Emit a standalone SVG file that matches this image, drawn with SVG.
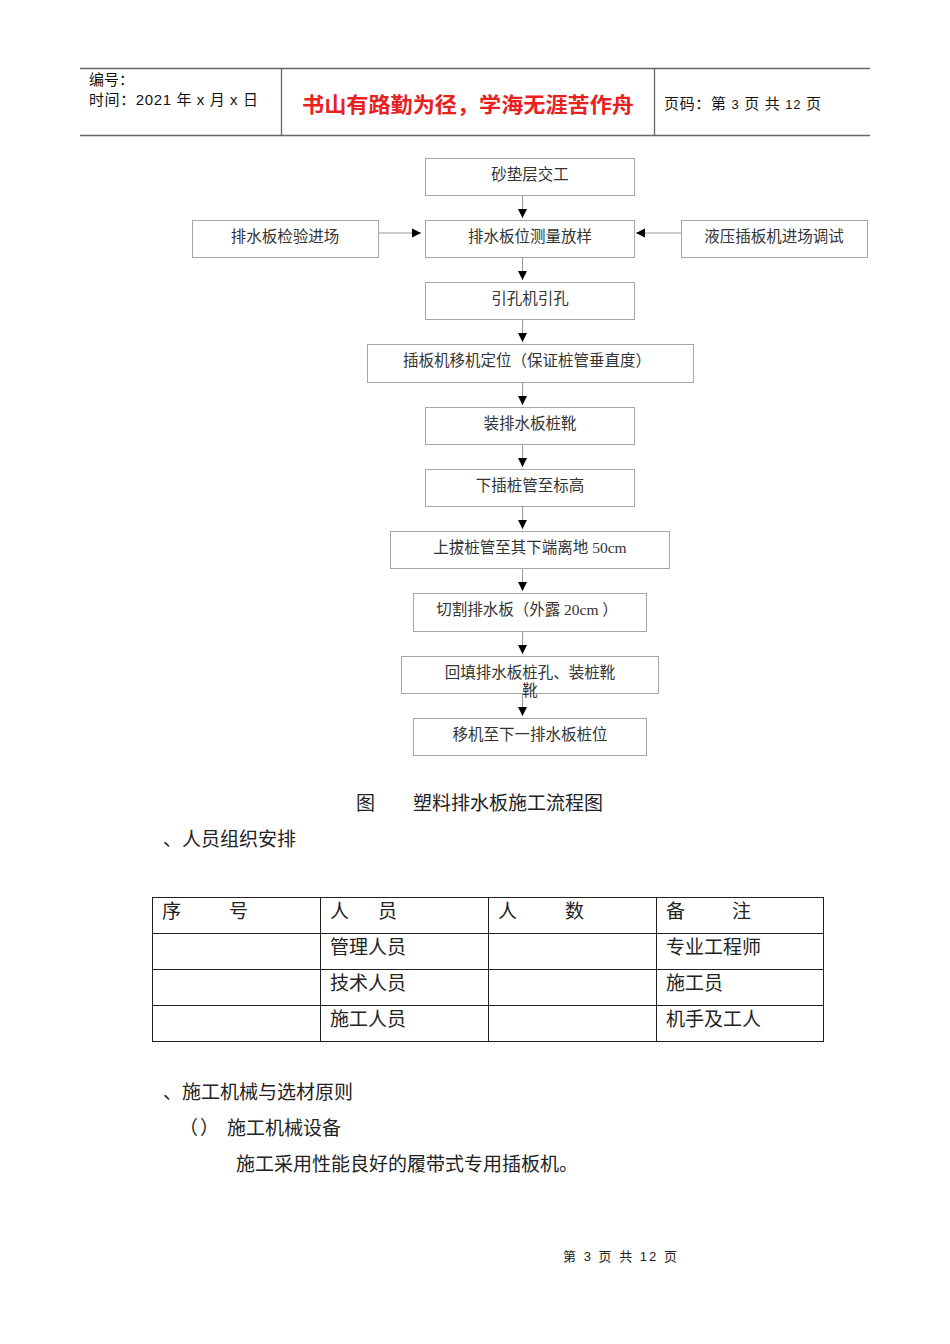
<svg xmlns="http://www.w3.org/2000/svg" width="950" height="1344" viewBox="0 0 950 1344">
<style>
.hl{stroke:#666;stroke-width:1.3;fill:none}
.box{fill:#fff;stroke:#a6a6a6;stroke-width:1}
.ft{font-family:"Liberation Serif","Noto Sans CJK SC",serif;font-size:15.5px;fill:#333;text-anchor:middle}
.bt{font-family:"Liberation Serif","Noto Sans CJK SC",serif;font-size:19px;fill:#222}
.hd{font-family:"Liberation Sans","Noto Sans CJK SC",sans-serif;font-size:15px;fill:#111}
.cn{stroke:#999;stroke-width:1;fill:none}
.tb{stroke:#222;stroke-width:1;fill:none}
</style>
<defs>
<marker id="ah" markerWidth="10" markerHeight="10" refX="9" refY="5" orient="auto" markerUnits="userSpaceOnUse">
<path d="M0,0.5 L9,5 L0,9.5 Z" fill="#000"/>
</marker>
</defs>
<rect width="950" height="1344" fill="#fff"/>

<g id="header">
<line class="hl" x1="80" y1="68.5" x2="870" y2="68.5"/>
<line class="hl" x1="80" y1="135.5" x2="870" y2="135.5"/>
<line class="hl" x1="281.5" y1="68" x2="281.5" y2="135"/>
<line class="hl" x1="654.5" y1="68" x2="654.5" y2="135"/>
<text class="hd" x="89" y="85">编号：</text>
<text class="hd" x="89" y="105" textLength="169" lengthAdjust="spacing">时间：2021 年 x 月 x 日</text>
<text x="468" y="112" font-family="Liberation Sans,'Noto Sans CJK SC',sans-serif" font-size="21" font-weight="bold" fill="#e8201e" text-anchor="middle" textLength="332" lengthAdjust="spacingAndGlyphs">书山有路勤为径，学海无涯苦作舟</text>
<text class="hd" x="664" y="109" textLength="157" lengthAdjust="spacing">页码：第 <tspan font-size="13">3</tspan> 页  共 <tspan font-size="13">12</tspan> 页</text>
</g>

<g id="connectors">
<line class="cn" x1="522.5" y1="195" x2="522.5" y2="218" marker-end="url(#ah)"/>
<line class="cn" x1="378" y1="233" x2="421" y2="233" marker-end="url(#ah)"/>
<line class="cn" x1="681" y1="233" x2="636" y2="233" marker-end="url(#ah)"/>
<line class="cn" x1="522.5" y1="257" x2="522.5" y2="280" marker-end="url(#ah)"/>
<line class="cn" x1="522.5" y1="319" x2="522.5" y2="342" marker-end="url(#ah)"/>
<line class="cn" x1="522.5" y1="382" x2="522.5" y2="405" marker-end="url(#ah)"/>
<line class="cn" x1="522.5" y1="444" x2="522.5" y2="467" marker-end="url(#ah)"/>
<line class="cn" x1="522.5" y1="506" x2="522.5" y2="529" marker-end="url(#ah)"/>
<line class="cn" x1="522.5" y1="568" x2="522.5" y2="591" marker-end="url(#ah)"/>
<line class="cn" x1="522.5" y1="631" x2="522.5" y2="654" marker-end="url(#ah)"/>
<line class="cn" x1="522.5" y1="693" x2="522.5" y2="716" marker-end="url(#ah)"/>
</g>

<g id="n1"><rect class="box" x="425.5" y="158.5" width="209" height="37"/><text class="ft" x="530" y="180">砂垫层交工</text></g>
<g id="n2"><rect class="box" x="425.5" y="220.5" width="209" height="37"/><text class="ft" x="530" y="242">排水板位测量放样</text></g>
<g id="nL"><rect class="box" x="192.5" y="220.5" width="186" height="37"/><text class="ft" x="285" y="242">排水板检验进场</text></g>
<g id="nR"><rect class="box" x="681.5" y="220.5" width="186" height="37"/><text class="ft" x="774" y="242">液压插板机进场调试</text></g>
<g id="n3"><rect class="box" x="425.5" y="282.5" width="209" height="37"/><text class="ft" x="530" y="304">引孔机引孔</text></g>
<g id="n4"><rect class="box" x="367.5" y="344.5" width="326" height="38"/><text class="ft" x="527" y="366">插板机移机定位（保证桩管垂直度）</text></g>
<g id="n5"><rect class="box" x="425.5" y="407.5" width="209" height="37"/><text class="ft" x="530" y="429">装排水板桩靴</text></g>
<g id="n6"><rect class="box" x="425.5" y="469.5" width="209" height="37"/><text class="ft" x="530" y="491">下插桩管至标高</text></g>
<g id="n7"><rect class="box" x="390.5" y="531.5" width="279" height="37"/><text class="ft" x="530" y="553">上拔桩管至其下端离地 50cm</text></g>
<g id="n8"><rect class="box" x="413.5" y="593.5" width="233" height="38"/><text class="ft" x="527" y="615">切割排水板（外露 20cm ）</text></g>
<g id="n9"><rect class="box" x="401.5" y="656.5" width="257" height="37"/><text class="ft" x="530" y="678">回填排水板桩孔、装桩靴</text><text class="ft" x="530" y="696">靴</text></g>
<g id="n10"><rect class="box" x="413.5" y="718.5" width="233" height="37"/><text class="ft" x="530" y="740">移机至下一排水板桩位</text></g>

<g id="caption">
<text class="bt" x="356" y="810">图</text>
<text class="bt" x="413" y="810">塑料排水板施工流程图</text>
</g>

<g id="body1"><text class="bt" x="163" y="846">、人员组织安排</text></g>

<g id="table">
<rect class="tb" x="152.5" y="897.5" width="671" height="144"/>
<line class="tb" x1="152" y1="933.5" x2="824" y2="933.5"/>
<line class="tb" x1="152" y1="969.5" x2="824" y2="969.5"/>
<line class="tb" x1="152" y1="1005.5" x2="824" y2="1005.5"/>
<line class="tb" x1="320.5" y1="897" x2="320.5" y2="1042"/>
<line class="tb" x1="488.5" y1="897" x2="488.5" y2="1042"/>
<line class="tb" x1="656.5" y1="897" x2="656.5" y2="1042"/>
<text class="bt" x="162" y="918">序</text><text class="bt" x="229" y="918">号</text>
<text class="bt" x="330" y="918">人</text><text class="bt" x="378" y="918">员</text>
<text class="bt" x="498" y="918">人</text><text class="bt" x="565" y="918">数</text>
<text class="bt" x="666" y="918">备</text><text class="bt" x="732" y="918">注</text>
<text class="bt" x="330" y="954">管理人员</text><text class="bt" x="666" y="954">专业工程师</text>
<text class="bt" x="330" y="990">技术人员</text><text class="bt" x="666" y="990">施工员</text>
<text class="bt" x="330" y="1026">施工人员</text><text class="bt" x="666" y="1026">机手及工人</text>
</g>

<g id="body2">
<text class="bt" x="163" y="1099">、施工机械与选材原则</text>
<text class="bt" x="179" y="1135">（</text>
<text class="bt" x="200" y="1135">）</text>
<text class="bt" x="227" y="1135">施工机械设备</text>
<text class="bt" x="236" y="1171">施工采用性能良好的履带式专用插板机。</text>
</g>

<g id="footer"><text x="563" y="1261" font-family="'Liberation Sans','Noto Sans CJK SC',sans-serif" font-size="13" fill="#222" textLength="114" lengthAdjust="spacing">第 3 页 共 12 页</text></g>
</svg>
